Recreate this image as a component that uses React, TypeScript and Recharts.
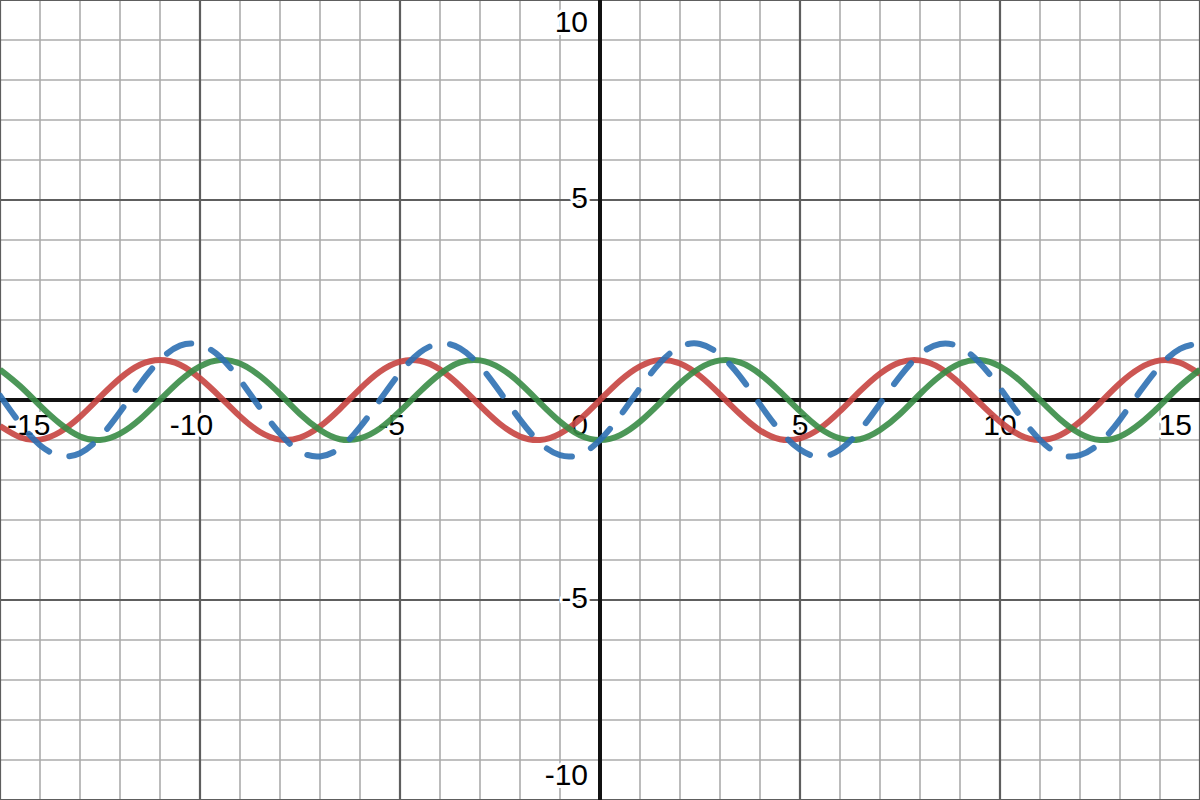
import React from 'react';
import { LineChart, Line, XAxis, YAxis, ReferenceLine, ReferenceDot } from 'recharts';

// sample positions along x
const X_VALUES = [
  -15, -14.5, -14, -13.5, -13, -12.5, -12, -11.5, -11, -10.5,
  -10, -9.5, -9, -8.5, -8, -7.5, -7, -6.5, -6, -5.5,
  -5, -4.5, -4, -3.5, -3, -2.5, -2, -1.5, -1, -0.5,
  0, 0.5, 1, 1.5, 2, 2.5, 3, 3.5, 4, 4.5,
  5, 5.5, 6, 6.5, 7, 7.5, 8, 8.5, 9, 9.5,
  10, 10.5, 11, 11.5, 12, 12.5, 13, 13.5, 14, 14.5, 15,
];

// red curve
const RED_VALUES = [
  -0.65, -0.93, -0.99, -0.8, -0.42, 0.07, 0.54, 0.88, 1.0, 0.88,
  0.54, 0.08, -0.41, -0.8, -0.99, -0.94, -0.66, -0.22, 0.28, 0.71,
  0.96, 0.98, 0.76, 0.35, -0.14, -0.6, -0.91, -1.0, -0.84, -0.48,
  0, 0.48, 0.84, 1.0, 0.91, 0.6, 0.14, -0.35, -0.76, -0.98,
  -0.96, -0.71, -0.28, 0.22, 0.66, 0.94, 0.99, 0.8, 0.41, -0.08,
  -0.54, -0.88, -1.0, -0.88, -0.54, -0.07, 0.42, 0.8, 0.99, 0.93, 0.65,
];

// green curve
const GREEN_VALUES = [
  0.76, 0.35, -0.14, -0.59, -0.91, -1.0, -0.84, -0.48, 0.0, 0.48,
  0.84, 1.0, 0.91, 0.6, 0.15, -0.35, -0.75, -0.98, -0.96, -0.71,
  -0.28, 0.21, 0.65, 0.94, 0.99, 0.8, 0.42, -0.07, -0.54, -0.88,
  -1.0, -0.88, -0.54, -0.07, 0.42, 0.8, 0.99, 0.94, 0.65, 0.21,
  -0.28, -0.71, -0.96, -0.98, -0.75, -0.35, 0.15, 0.6, 0.91, 1.0,
  0.84, 0.48, 0.0, -0.48, -0.84, -1.0, -0.91, -0.59, -0.14, 0.35, 0.76,
];

// blue dashed curve
const BLUE_VALUES = [
  0.11, -0.58, -1.13, -1.39, -1.33, -0.93, -0.3, 0.4, 1.0, 1.36,
  1.38, 1.08, 0.5, -0.2, -0.84, -1.29, -1.41, -1.2, -0.68, 0.0,
  0.68, 1.19, 1.41, 1.29, 0.85, 0.2, -0.49, -1.07, -1.38, -1.36,
  -1.0, -0.4, 0.3, 0.93, 1.33, 1.4, 1.13, 0.59, -0.11, -0.77,
  -1.24, -1.42, -1.24, -0.76, -0.09, 0.59, 1.14, 1.4, 1.32, 0.92,
  0.3, -0.4, -1.0, -1.36, -1.38, -1.07, -0.49, 0.21, 0.85, 1.28, 1.41,
];

const GRID_X = [-15, -14, -13, -12, -11, -10, -9, -8, -7, -6, -5, -4, -3, -2, -1, 0, 1, 2, 3, 4, 5, 6, 7, 8, 9, 10, 11, 12, 13, 14, 15];
const GRID_Y = [-10, -9, -8, -7, -6, -5, -4, -3, -2, -1, 0, 1, 2, 3, 4, 5, 6, 7, 8, 9, 10];
const MAJOR_X = [-15, -10, -5, 5, 10, 15];
const MAJOR_Y = [-10, -5, 5, 10];
const X_TICK_LABELS = ['-15', '-10', '-5', '5', '10', '15'];
const Y_TICK_LABELS = ['-10', '-5', '5', '10'];

const data = X_VALUES.map((x, i) => ({
  x,
  red: RED_VALUES[i],
  green: GREEN_VALUES[i],
  blue: BLUE_VALUES[i],
}));

const W = 1200;
const H = 800;
const FONT = '"Liberation Sans", Arial, Helvetica, sans-serif';
const FS = 30;
const MARGIN = { top: 0, right: 0, bottom: 0, left: 0 };

const textWidth = (t: string) => {
  let w = 0;
  for (const c of t) w += c === '-' ? FS * 0.333 : FS * 0.556;
  return w;
};

const labelStyle = {
  fontFamily: FONT,
  fontSize: FS,
  fill: '#000',
  stroke: '#fff',
  strokeWidth: 6,
  strokeLinejoin: 'round' as const,
  paintOrder: 'stroke' as const,
};

const XLabel = (props: any) => {
  const { cx, cy, text } = props;
  if (cx == null || cy == null) return null;
  const w = textWidth(text);
  const center = text.startsWith('-') ? cx - 8.5 : cx;
  let left = center - w / 2;
  if (left < 7) left = 7;
  if (left + w > W - 8) left = W - 8 - w;
  return (
    <text x={left} y={cy + 35} textAnchor="start" style={labelStyle}>
      {text}
    </text>
  );
};

const YLabel = (props: any) => {
  const { cx, cy, text } = props;
  if (cx == null || cy == null) return null;
  let base = cy + 8;
  if (base < 32) base = 32;
  if (base > H - 15) base = H - 15;
  return (
    <text x={cx - 12} y={base} textAnchor="end" style={labelStyle}>
      {text}
    </text>
  );
};

const OriginLabel = (props: any) => {
  const { cx, cy } = props;
  if (cx == null || cy == null) return null;
  return (
    <text x={cx - 12} y={cy + 35} textAnchor="end" style={labelStyle}>
      0
    </text>
  );
};

const layer = { position: 'absolute' as const, left: 0, top: 0 };

export default function App() {
  return (
    <div style={{ position: 'fixed', left: 0, top: 0, width: W, height: H, background: '#fff' }}>
      {/* background: grid, axes, labels */}
      <div style={layer}>
        <LineChart width={W} height={H} data={data} margin={MARGIN}>
          <XAxis type="number" dataKey="x" domain={[-15, 15]} hide allowDataOverflow />
          <YAxis type="number" domain={[-10, 10]} hide allowDataOverflow />
          {GRID_X.map((v) => (
            <ReferenceLine key={`gx${v}`} x={v} stroke="#ababab" strokeWidth={1.6} ifOverflow="visible" />
          ))}
          {GRID_Y.map((v) => (
            <ReferenceLine key={`gy${v}`} y={v} stroke="#ababab" strokeWidth={1.6} ifOverflow="visible" />
          ))}
          {MAJOR_X.map((v) => (
            <ReferenceLine key={`mx${v}`} x={v} stroke="#5e5e5e" strokeWidth={2.2} ifOverflow="visible" />
          ))}
          {MAJOR_Y.map((v) => (
            <ReferenceLine key={`my${v}`} y={v} stroke="#5e5e5e" strokeWidth={2.2} ifOverflow="visible" />
          ))}
          <ReferenceLine x={0} stroke="#111" strokeWidth={4} ifOverflow="visible" />
          <ReferenceLine y={0} stroke="#111" strokeWidth={4} ifOverflow="visible" />
          {MAJOR_X.map((v, i) => (
            <ReferenceDot
              key={`lx${v}`}
              x={v}
              y={0}
              r={0}
              ifOverflow="visible"
              shape={(p: any) => <XLabel cx={p.cx} cy={p.cy} text={X_TICK_LABELS[i]} />}
            />
          ))}
          {MAJOR_Y.map((v, i) => (
            <ReferenceDot
              key={`ly${v}`}
              x={0}
              y={v}
              r={0}
              ifOverflow="visible"
              shape={(p: any) => <YLabel cx={p.cx} cy={p.cy} text={Y_TICK_LABELS[i]} />}
            />
          ))}
          <ReferenceDot x={0} y={0} r={0} ifOverflow="visible" shape={(p: any) => <OriginLabel cx={p.cx} cy={p.cy} />} />
        </LineChart>
      </div>
      {/* foreground: curves */}
      <div style={layer}>
        <LineChart width={W} height={H} data={data} margin={MARGIN}>
          <XAxis type="number" dataKey="x" domain={[-15, 15]} hide allowDataOverflow />
          <YAxis type="number" domain={[-10, 10]} hide allowDataOverflow />
          <Line
            type="natural"
            dataKey="red"
            stroke="#c74440"
            strokeWidth={6}
            strokeOpacity={0.9}
            dot={false}
            activeDot={false}
            isAnimationActive={false}
          />
          <Line
            type="natural"
            dataKey="green"
            stroke="#388c46"
            strokeWidth={6}
            strokeOpacity={0.9}
            dot={false}
            activeDot={false}
            isAnimationActive={false}
          />
          <Line
            type="natural"
            dataKey="blue"
            stroke="#2d70b3"
            strokeWidth={6}
            strokeOpacity={0.9}
            strokeDasharray="27 21"
            strokeLinecap="round"
            dot={false}
            activeDot={false}
            isAnimationActive={false}
          />
        </LineChart>
      </div>
    </div>
  );
}
